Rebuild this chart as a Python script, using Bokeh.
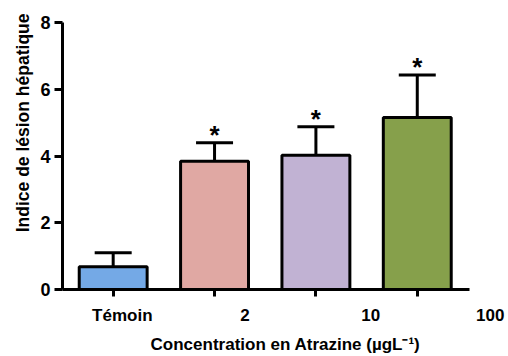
import numpy as np
from bokeh.plotting import figure
from bokeh.models import (Range1d, FixedTicker, LinearAxis, Whisker, TeeHead,
                          ColumnDataSource, Title)
from bokeh.core.properties import value
from bokeh.embed import file_html
from bokeh.resources import INLINE

# ---- data ----
categories = ["Témoin", "2", "10", "100"]
means = [0.68, 3.84, 4.02, 5.15]
errors = [0.42, 0.56, 0.86, 1.28]
significant = [False, True, True, True]
colors = ["#74a9e6", "#e0a8a3", "#c1b2d3", "#86a04b"]
y_ticks = [0, 2, 4, 6, 8]
tick_label_pos = [0.09, 1.30, 2.54, 3.72]
x_title = "Concentration en Atrazine (µgL⁻¹)"
y_title = "Indice de lésion hépatique"

FONT = "Liberation Sans"

xs = list(range(len(categories)))
upper = [m + e for m, e in zip(means, errors)]

p = figure(width=508, height=356, x_range=Range1d(-0.5, 3.90), y_range=Range1d(0, 8),
           output_backend="svg", toolbar_location=None,
           min_border_left=62, min_border_top=22, min_border_right=0, min_border_bottom=65)
p.outline_line_color = None
p.xgrid.visible = False
p.ygrid.visible = False

src = ColumnDataSource(dict(x=xs, top=means, upper=upper, color=colors))
p.vbar(x="x", top="top", bottom=0, width=0.67, source=src, fill_color="color",
       line_color="black", line_width=3)

wh = Whisker(base="x", lower="top", upper="upper", source=src, line_color="black", line_width=3,
             upper_head=TeeHead(size=37, line_color="black", line_width=3), lower_head=None)
p.add_layout(wh)

sx = [x for x, s in zip(xs, significant) if s]
sy = [u for u, s in zip(upper, significant) if s]
p.text(x=sx, y=sy, text=["*"] * len(sx), text_align="center", text_baseline="alphabetic",
       text_font=value(FONT), text_font_style="bold", text_font_size="26px",
       text_color="black", y_offset=-8)

# y axis
ya = p.yaxis[0]
ya.ticker = FixedTicker(ticks=y_ticks)
ya.axis_line_width = 3
ya.major_tick_line_width = 3
ya.major_tick_out = 8
ya.major_tick_in = 0
ya.minor_tick_line_color = None
ya.major_label_text_font = FONT
ya.major_label_text_font_style = "bold"
ya.major_label_text_font_size = "18px"
ya.major_label_text_color = "black"
ya.major_label_standoff = 4

t = Title(text=y_title, align="right", text_font=FONT, text_font_style="bold",
          text_font_size="17.5px", text_color="black", standoff=10, offset=-9)
p.add_layout(t, "left")

# main x axis (ticks only)
xa = p.xaxis[0]
xa.ticker = FixedTicker(ticks=xs)
xa.bounds = (-0.5, 3.52)
xa.axis_line_width = 3
xa.major_tick_line_width = 3
xa.major_tick_out = 7
xa.major_tick_in = 0
xa.minor_tick_line_color = None
xa.major_label_text_font_size = "1px"
xa.major_label_standoff = 0
xa.major_label_text_color = None

# label axis
la = LinearAxis(ticker=FixedTicker(ticks=tick_label_pos),
                major_label_overrides={pos: lab for pos, lab in zip(tick_label_pos, categories)})
la.axis_line_color = None
la.major_tick_line_color = None
la.minor_tick_line_color = None
la.major_label_standoff = 3
la.major_label_text_font = FONT
la.major_label_text_font_style = "bold"
la.major_label_text_font_size = "17px"
la.major_label_text_color = "black"
la.axis_label = x_title
la.axis_label_standoff = 7
la.axis_label_text_font = FONT
la.axis_label_text_font_style = "bold"
la.axis_label_text_font_size = "17px"
la.axis_label_text_color = "black"
p.add_layout(la, "below")

open("out.html", "w").write(file_html(p, INLINE))
